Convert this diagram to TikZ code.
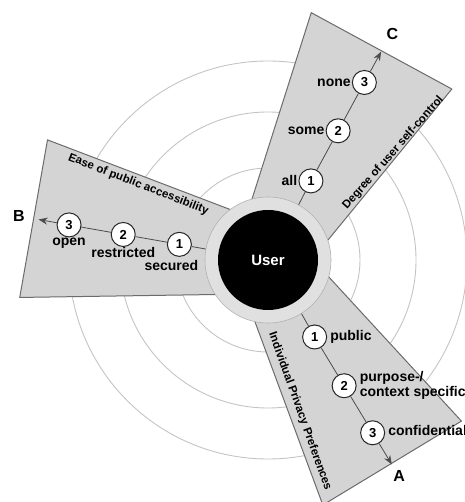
\documentclass[tikz,border=0pt]{standalone}
\usepackage{fontspec}
\setmainfont{Liberation Sans}
\usetikzlibrary{arrows.meta,positioning}
\definecolor{sectorgray}{gray}{0.83}
\definecolor{halogray}{gray}{0.88}
\definecolor{ringgray}{gray}{0.77}
\definecolor{edgegray}{gray}{0.42}
\begin{document}
\begin{tikzpicture}[x=1pt, y=1pt, line join=round,
  ring/.style={draw=ringgray, line width=0.9pt},
  sector/.style={fill=sectorgray, draw=edgegray, line width=1pt},
  level node/.style={circle, draw=black!85, fill=white, line width=1pt, minimum size=24pt, inner sep=0pt, font=\fontsize{13}{13}\selectfont\bfseries},
  value/.style={font=\fontsize{14}{15}\selectfont\bfseries, inner sep=1pt},
  title/.style={font=\fontsize{11.5}{11.5}\selectfont\bfseries, inner sep=0pt},
  axis name/.style={font=\fontsize{16}{16}\selectfont\bfseries},
  axis line/.style={draw=black!70, line width=0.8pt}]
\useasboundingbox (-268,-242) rectangle (196,260);
% rings round the user
\draw[ring] (0,0) circle (92);
\draw[ring] (0,0) circle (148);
\draw[ring] (0,0) circle (199);
% the three sectors
\draw[sector, rotate=61.5] (40,-42) -- (238,-80) -- (238,80) -- (40,42) -- cycle;
\draw[sector, rotate=170] (40,-42) -- (238,-80) -- (238,80) -- (40,42) -- cycle;
\draw[sector, rotate=-58.8] (40,-42) -- (238,-80) -- (238,82) -- (40,42) -- cycle;
% user
\node[circle, fill=halogray, draw=gray!60, line width=0.6pt, minimum size=126pt, inner sep=0pt] (halo) at (0,0) {};
\node[circle, fill=black, text=white, minimum size=100pt, inner sep=0pt, font=\fontsize{15}{15}\selectfont\bfseries] (user) at (0,0) {User};
% C: degree of user self-control
\node[level node] (c1) at (61.5:90) {1};
\node[level node] (c2) at (61.5:147) {2};
\node[level node] (c3) at (61.5:202) {3};
\coordinate (tipC) at (61.5:237);
\draw[axis line] (halo.61.5) -- (c1) -- (c2) -- (c3);
\draw[axis line, -{Stealth[length=9pt, width=7pt]}] (c3) -- (tipC);
\node[value, left=0pt of c1] (all) {all};
\node[value, left=0pt of c2] (some) {some};
\node[value, left=0pt of c3] (none) {none};
\node[axis name] (C) at (61.2:258) {C};
\node[title, rotate=48.7] (ctitle) at (40.6:165) {Degree of user self-control};
% B: ease of public accessibility
\node[level node] (b1) at (170:90) {1};
\node[level node] (b2) at (170:147) {2};
\node[level node] (b3) at (170:202) {3};
\coordinate (tipB) at (170:233);
\draw[axis line] (halo.170) -- (b1) -- (b2) -- (b3);
\draw[axis line, -{Stealth[length=9pt, width=7pt]}] (b3) -- (tipB);
\node[value, below=-1pt of b3] (open) {open};
\node[value, below=-1pt of b2] (restricted) {restricted};
\node[value, below=2pt of b1, xshift=-8pt] (secured) {secured};
\node[axis name] (B) at (170:253) {B};
\node[title, rotate=-21.3] (btitle) at (149.8:150) {Ease of public accessibility};
% A: individual privacy preferences
\node[level node] (a1) at (-58.8:90) {1};
\node[level node] (a2) at (-58.8:147) {2};
\node[level node] (a3) at (-58.8:202) {3};
\coordinate (tipA) at (-58.8:239);
\draw[axis line] (halo.-58.8) -- (a1) -- (a2) -- (a3);
\draw[axis line, -{Stealth[length=9pt, width=7pt]}] (a3) -- (tipA);
\node[value, right=2pt of a1] (public) {public};
\node[value, right=2pt of a2, align=left] (purpose) {purpose-/\\context specific};
\node[value, right=2pt of a3, yshift=2pt] (confidential) {confidential};
\node[axis name] (A) at (-58.8:253) {A};
\node[title, rotate=-70.3] (atitle) at (-78.1:154.8) {Individual Privacy Preferences};
\end{tikzpicture}
\end{document}
